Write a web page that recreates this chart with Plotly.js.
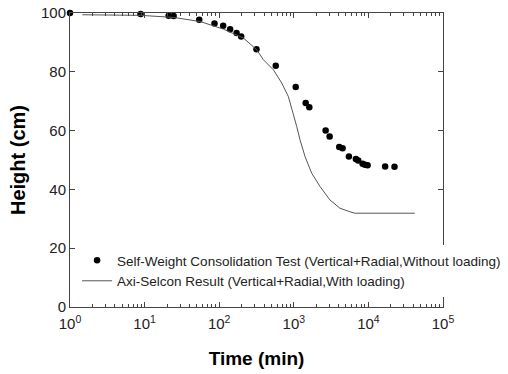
<!DOCTYPE html>
<html>
<head>
<meta charset="utf-8">
<script src="https://cdn.plot.ly/plotly-3.0.1.min.js"></script>
<style>html,body{margin:0;padding:0;background:#fff;}#chart{width:508px;height:374px;}</style>
</head>
<body>
<div id="chart"></div>
<script>
// Self-weight consolidation test (measured points)
const testTime = [1, 8.85, 21, 24.5, 54, 86.5, 113, 140, 171, 197, 316, 573, 1061, 1443, 1614, 2672, 3022, 4064, 4508, 5479, 6797, 7295, 8356, 9000, 9747, 16750, 22390];
const testHeight = [100, 99.7, 99.1, 99.0, 97.7, 96.4, 95.7, 94.5, 93.2, 92.0, 87.7, 82.1, 74.8, 69.4, 67.9, 60.0, 58.0, 54.4, 54.0, 51.2, 50.3, 49.8, 48.7, 48.4, 48.2, 47.8, 47.7];

// Axi-Selcon result (simulated curve)
const simTime = [1.46, 8.8, 24.5, 55.7, 114, 211, 319, 391, 532, 689, 845, 986, 1094, 1211, 1413, 1738, 2244, 3054, 4153, 5650, 6590, 41880];
const simHeight = [99.4, 99.2, 98.5, 97.1, 94.5, 91.5, 87.5, 84.1, 80.7, 76.2, 71.6, 66.0, 61.4, 56.9, 51.2, 45.5, 41.0, 36.4, 33.6, 32.4, 31.9, 31.9];

const xTickVals = [1, 10, 100, 1000, 10000, 100000];
const xTickText = ['10<sup>0</sup>', '10<sup>1</sup>', '10<sup>2</sup>', '10<sup>3</sup>', '10<sup>4</sup>', '10<sup>5</sup>'];
const yTickVals = [0, 20, 40, 60, 80, 100];

const FONT = 'Liberation Sans, Arial, sans-serif';

const traces = [
  {
    x: testTime, y: testHeight, mode: 'markers', type: 'scatter',
    name: 'Self-Weight Consolidation Test (Vertical+Radial,Without loading)',
    marker: {color: '#000', size: 6.5, symbol: 'circle'},
    cliponaxis: false
  },
  {
    x: simTime, y: simHeight, mode: 'lines', type: 'scatter',
    name: 'Axi-Selcon Result (Vertical+Radial,With loading)',
    line: {color: '#555', width: 1}
  }
];

const layout = {
  width: 508, height: 374,
  margin: {l: 70, r: 65, t: 13, b: 67, autoexpand: false},
  paper_bgcolor: '#fff', plot_bgcolor: '#fff',
  font: {family: FONT, color: '#222', size: 15},
  showlegend: true,
  legend: {
    x: 0.019, y: 0.211, xanchor: 'left', yanchor: 'top',
    bgcolor: '#fff', borderwidth: 0,
    font: {family: FONT, size: 13.5, color: '#222'},
    tracegroupgap: 0
  },
  xaxis: {
    type: 'log', range: [0, 5],
    tickvals: xTickVals, ticktext: xTickText,
    ticks: 'inside', ticklen: 5, tickcolor: '#444', tickwidth: 1,
    ticklabelstandoff: 3,
    minor: {ticks: 'inside', ticklen: 3, dtick: 'D1', tickcolor: '#444', showgrid: false},
    showline: true, linecolor: '#444', linewidth: 1, mirror: 'ticks',
    showgrid: false, zeroline: false,
    tickfont: {family: FONT, size: 15, color: '#222'},
    title: {text: 'Time (min)', font: {family: FONT, size: 19, color: '#000', weight: 'bold'}, standoff: 20},
    automargin: false
  },
  yaxis: {
    range: [0, 100],
    tickvals: yTickVals,
    ticks: 'inside', ticklen: 5, tickcolor: '#444', tickwidth: 1,
    showline: true, linecolor: '#444', linewidth: 1, mirror: 'ticks',
    showgrid: false, zeroline: false,
    tickfont: {family: FONT, size: 15, color: '#222'},
    title: {text: 'Height (cm)', font: {family: FONT, size: 20, color: '#000', weight: 'bold'}, standoff: 9},
    automargin: false
  }
};

Plotly.newPlot('chart', traces, layout, {displayModeBar: false, staticPlot: true});
</script>
</body>
</html>
